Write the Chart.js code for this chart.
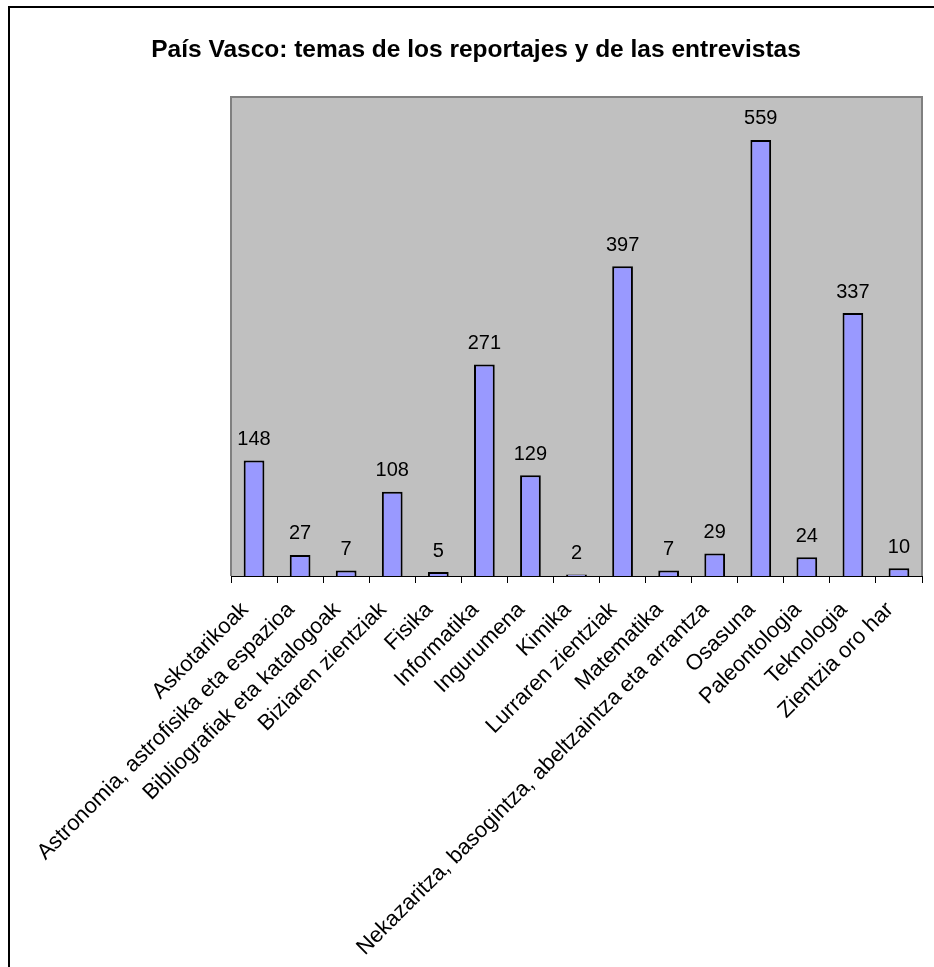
<!DOCTYPE html>
<html>
<head>
<meta charset="utf-8">
<script src="https://cdn.jsdelivr.net/npm/chart.js@4.4.1/dist/chart.umd.min.js"></script>
<style>
  html, body { margin: 0; padding: 0; background: #fff; }
  canvas { display: block; }
</style>
</head>
<body>
<canvas id="chart" width="934" height="967"></canvas>
<script>
const titleText = 'País Vasco: temas de los reportajes y de las entrevistas';

const categories = [
  'Askotarikoak',
  'Astronomia, astrofisika eta espazioa',
  'Bibliografiak eta katalogoak',
  'Biziaren zientziak',
  'Fisika',
  'Informatika',
  'Ingurumena',
  'Kimika',
  'Lurraren zientziak',
  'Matematika',
  'Nekazaritza, basogintza, abeltzaintza eta arrantza',
  'Osasuna',
  'Paleontologia',
  'Teknologia',
  'Zientzia oro har'
];

const counts = [148, 27, 7, 108, 5, 271, 129, 2, 397, 7, 29, 559, 24, 337, 10];

// grey plot area, outer frame and the title
const frame = {
  id: 'frame',
  beforeDraw(chart) {
    const ctx = chart.ctx;
    const a = chart.chartArea;
    ctx.save();
    ctx.fillStyle = '#fff';
    ctx.fillRect(0, 0, chart.width, chart.height);
    ctx.strokeStyle = '#000';
    ctx.lineWidth = 2;
    ctx.beginPath();
    ctx.moveTo(9, chart.height + 5);
    ctx.lineTo(9, 7);
    ctx.lineTo(chart.width + 5, 7);
    ctx.stroke();
    ctx.fillStyle = '#c0c0c0';
    ctx.fillRect(a.left, a.top, a.right - a.left, a.bottom - a.top);
    ctx.strokeStyle = '#808080';
    ctx.beginPath();
    ctx.moveTo(a.left, a.bottom);
    ctx.lineTo(a.left, a.top);
    ctx.lineTo(a.right, a.top);
    ctx.lineTo(a.right, a.bottom);
    ctx.stroke();
    ctx.fillStyle = '#000';
    ctx.font = 'bold 24.5px "Liberation Sans", Arial, sans-serif';
    ctx.textAlign = 'center';
    ctx.textBaseline = 'middle';
    ctx.fillText(titleText, 476, 50);
    ctx.restore();
  },
  afterDatasetsDraw(chart) {
    const ctx = chart.ctx;
    const bars = chart.getDatasetMeta(0).data;
    ctx.save();
    ctx.fillStyle = '#000';
    ctx.font = '20px "Liberation Sans", Arial, sans-serif';
    ctx.textAlign = 'center';
    ctx.textBaseline = 'bottom';
    bars.forEach((bar, i) => {
      ctx.fillText(String(counts[i]), bar.x, bar.y - 11);
    });
    ctx.restore();
  }
};

new Chart(document.getElementById('chart'), {
  type: 'bar',
  data: {
    labels: categories,
    datasets: [{
      data: counts,
      backgroundColor: '#9999ff',
      borderColor: '#000',
      borderWidth: 2,
      categoryPercentage: 1,
      barPercentage: 0.45
    }]
  },
  options: {
    responsive: false,
    animation: false,
    devicePixelRatio: 1,
    layout: { padding: { left: 231, right: 12, top: 97, bottom: 0 } },
    plugins: {
      legend: { display: false },
      title: { display: false },
      tooltip: { enabled: false }
    },
    scales: {
      y: {
        display: false,
        min: 0,
        max: 614
      },
      x: {
        afterFit(scale) { scale.height = 391; },
        grid: {
          offset: true,
          drawOnChartArea: false,
          drawTicks: true,
          tickLength: 7,
          color: '#000',
          lineWidth: 1
        },
        border: { display: true, color: '#000', width: 1 },
        ticks: {
          autoSkip: false,
          minRotation: 45,
          maxRotation: 45,
          padding: 14,
          labelOffset: -9,
          color: '#000',
          font: { family: '"Liberation Sans", Arial, sans-serif', size: 22 }
        }
      }
    }
  },
  plugins: [frame]
});
</script>
</body>
</html>
